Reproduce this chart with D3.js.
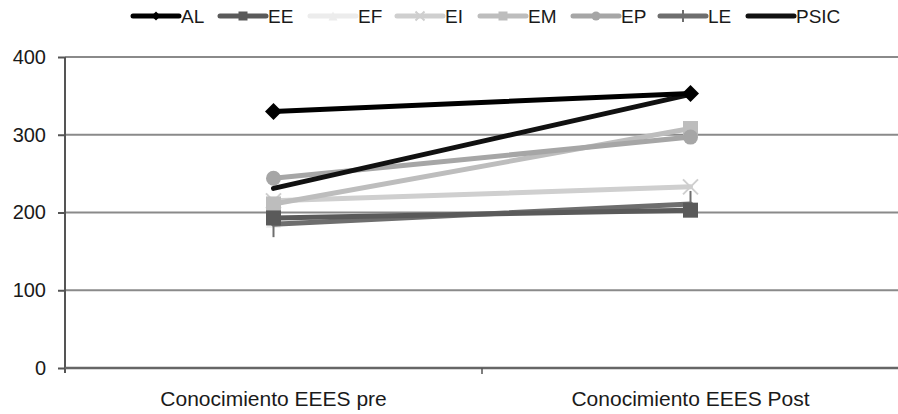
<!DOCTYPE html>
<html><head><meta charset="utf-8">
<script src="https://cdn.jsdelivr.net/npm/d3@7"></script>
<style>body{margin:0;background:#fff}svg{display:block}text{font-family:"Liberation Sans",Arial,sans-serif}</style>
</head><body>
<svg id="c" width="898" height="414"></svg>
<script>
const categories = ["Conocimiento EEES pre", "Conocimiento EEES Post"];
const seriesNames = ["AL", "EE", "EF", "EI", "EM", "EP", "LE", "PSIC"];
const AL = [330, 353];
const EE = [193, 203];
const EF = [190, 206];
const EI = [215, 233];
const EM = [211, 308];
const EP = [244, 297];
const LE = [185, 211];
const PSIC = [231, 352];
const yTicks = [0, 100, 200, 300, 400];

const seriesValues = {AL, EE, EF, EI, EM, EP, LE, PSIC};
const colors = {AL:"#000", EE:"#5a5a5a", EF:"#ececec", EI:"#cfcfcf", EM:"#bdbdbd", EP:"#a6a6a6", LE:"#6e6e6e", PSIC:"#111"};
const markers = {AL:"diamond", EE:"square", EF:"triangle", EI:"x", EM:"square", EP:"circle", LE:"plus", PSIC:"none"};
const drawOrder = ["EF","EI","EM","EP","LE","EE","PSIC","AL"];

const svg = d3.select("#c");
const mLeft = 65, mRight = 899, mTop = 57, mBottom = 368;
const x = d3.scaleBand().domain(categories).range([mLeft, mRight]);
const y = d3.scaleLinear().domain([0, 400]).range([mBottom, mTop]);

// gridlines
svg.append("g").selectAll("line").data(yTicks.filter(d=>d>0)).join("line")
  .attr("x1", mLeft).attr("x2", 898).attr("y1", d=>y(d)).attr("y2", d=>y(d))
  .attr("stroke", "#8a8a8a").attr("stroke-width", 2);

// y axis
const ya = svg.append("g").attr("transform", `translate(${mLeft},0)`)
  .call(d3.axisLeft(y).tickValues(yTicks).tickSize(7).tickPadding(12));
ya.select(".domain").attr("stroke", "#555").attr("stroke-width", 2).attr("d", `M-0,${y(400)}V${mBottom+5}`);
ya.selectAll(".tick line").attr("stroke", "#555").attr("stroke-width", 2);
ya.selectAll(".tick text").attr("font-size", 20).attr("fill", "#1a1a1a").attr("font-family", "Liberation Sans, Arial, sans-serif");

// x axis
const xa = svg.append("g").attr("transform", `translate(0,${mBottom})`)
  .call(d3.axisBottom(x).tickSize(0).tickPadding(23));
xa.select(".domain").attr("stroke", "#666").attr("stroke-width", 2.5).attr("d", `M${mLeft},0H898`);
xa.selectAll(".tick text").attr("font-size", 21).attr("fill", "#1a1a1a").attr("font-family", "Liberation Sans, Arial, sans-serif");
svg.append("line").attr("x1", x.step()+mLeft).attr("x2", x.step()+mLeft).attr("y1", mBottom).attr("y2", mBottom+6)
  .attr("stroke", "#555").attr("stroke-width", 1.5);

const cx = d => x(d) + x.bandwidth()/2;
const line = d3.line().x((d,i)=>cx(categories[i])).y(d=>y(d));

function marker(g, type, color, px, py, s) {
  if (type === "square") g.append("rect").attr("x", px-s/2).attr("y", py-s/2).attr("width", s).attr("height", s).attr("fill", color);
  else if (type === "diamond") g.append("path").attr("d", `M${px},${py-s/2}L${px+s/2},${py}L${px},${py+s/2}L${px-s/2},${py}Z`).attr("fill", color);
  else if (type === "circle") g.append("circle").attr("cx", px).attr("cy", py).attr("r", s/2).attr("fill", color);
  else if (type === "triangle") g.append("path").attr("d", `M${px},${py-s/2}L${px+s/2},${py+s/2}L${px-s/2},${py+s/2}Z`).attr("fill", color);
  else if (type === "x") g.append("path").attr("d", `M${px-s/2},${py-s/2}L${px+s/2},${py+s/2}M${px-s/2},${py+s/2}L${px+s/2},${py-s/2}`).attr("stroke", color).attr("stroke-width", 2);
  else if (type === "plus") g.append("path").attr("d", `M${px},${py-s/2}L${px},${py+s/2}`).attr("stroke", color).attr("stroke-width", 2);
}

const plot = svg.append("g");
drawOrder.forEach(name => {
  const vals = seriesValues[name];
  const g = plot.append("g");
  g.append("path").datum(vals).attr("d", line).attr("fill", "none")
    .attr("stroke", colors[name]).attr("stroke-width", 5).attr("stroke-linecap", "round");
  vals.forEach((v,i) => marker(g, markers[name], colors[name], cx(categories[i]), y(v),
    markers[name]==="plus" ? 26 : markers[name]==="diamond" ? 17 : 15));
});

// legend
const legendX = [133, 220, 310, 397, 480, 573, 660, 748];
const lg = svg.append("g");
seriesNames.forEach((name, i) => {
  const lx = legendX[i], ly = 16;
  const g = lg.append("g");
  g.append("line").attr("x1", lx).attr("x2", lx+46).attr("y1", ly).attr("y2", ly)
    .attr("stroke", colors[name]).attr("stroke-width", 5).attr("stroke-linecap", "round");
  if (markers[name] !== "none") marker(g, markers[name], colors[name], lx+23, ly, markers[name]==="plus"?12:9);
  g.append("text").attr("x", lx + 48).attr("y", ly+7).attr("font-size", 19).attr("fill", "#1a1a1a").text(name);
});
</script>
</body></html>
